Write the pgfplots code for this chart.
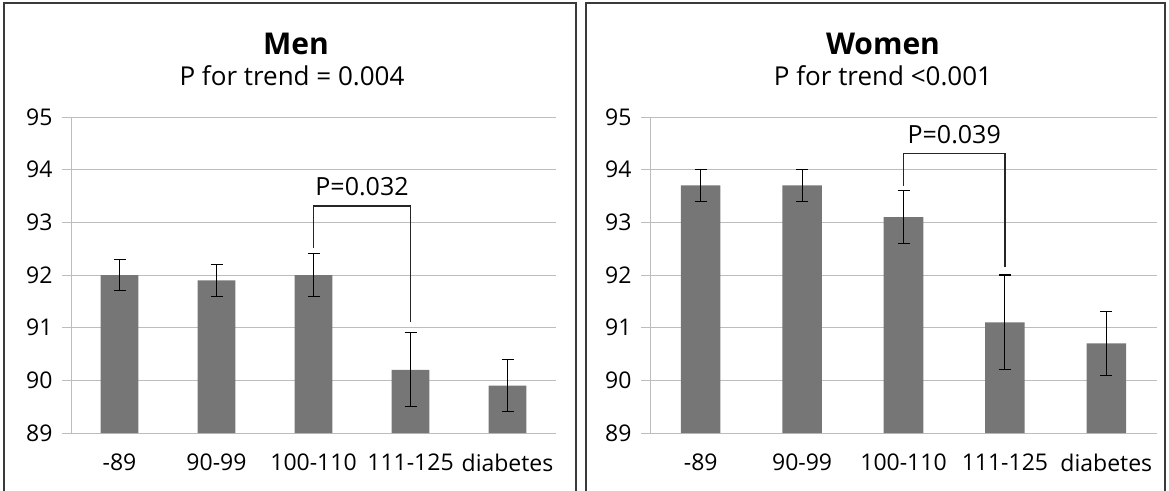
\documentclass[border=0pt]{standalone}
\usepackage{pgfplots}
\pgfplotsset{compat=1.18}
\usepackage{fontspec}
\setmainfont{Open Sans}
\definecolor{barc}{HTML}{767676}
\definecolor{gridc}{HTML}{BDBDBD}
\definecolor{framec}{HTML}{3A3A3A}
\pgfplotstableread{
x y err
1 92.0 0.3
2 91.9 0.3
3 92.0 0.4
4 90.2 0.7
5 89.9 0.5
}\men
\pgfplotstableread{
x y err
1 93.7 0.3
2 93.7 0.3
3 93.1 0.5
4 91.1 0.9
5 90.7 0.6
}\women
\pgfplotsset{
  panel/.style={
    scale only axis, height=316pt,
    ybar, bar width=0.39,
    xmin=0.5, xmax=5.5, ymin=89, ymax=95,
    ytick={89,90,...,95},
    axis lines*=left,
    axis line style={gridc, line width=1pt},
    ymajorgrids=true,
    grid style={gridc, line width=1pt},
    tick align=outside,
    major tick length=9pt,
    tick style={gridc, line width=1pt},
    xtick={1,...,5},
    xticklabels={-89,90-99,100-110,111-125,diabetes},
    major x tick style={draw=none},
    extra x ticks={0.5,1.5,...,5.5},
    extra x tick labels={},
    extra x tick style={major tick length=9pt, tick style={gridc, line width=1pt}, grid=none},
    /pgf/number format/assume math mode=true,
    tick label style={font=\fontsize{23}{27}\selectfont, text=black},
    xticklabel style={yshift=-8pt},
    yticklabel style={xshift=-6pt},
  },
  barstyle/.style={fill=barc, draw=none,
    error bars/.cd, y dir=both, y explicit,
    error bar style={black, line width=1.1pt},
    error mark options={black, line width=1.1pt, mark size=6pt, rotate=90}},
}
\begin{document}
\begin{tikzpicture}[x=1pt,y=1pt]
\useasboundingbox (0,0) rectangle (1169,490);
\draw[framec, line width=1.6pt] (4,-10) -- (4,487) -- (576,487) -- (576,-10);
\draw[framec, line width=1.6pt] (586,-10) -- (586,487) -- (1165,487) -- (1165,-10);
\node[font=\fontsize{30}{34}\selectfont\bfseries] at (296,446) {Men};
\node[font=\fontsize{26}{30}\selectfont] at (292,414) {P for trend = 0.004};
\node[font=\fontsize{30}{34}\selectfont\bfseries] at (883,446) {Women};
\node[font=\fontsize{26}{30}\selectfont] at (883,414) {P for trend <0.001};
\begin{axis}[panel, width=485pt, at={(71pt,57pt)}, anchor=south west]
\addplot[barstyle] table[x=x, y=y, y error=err] {\men};
\draw[black!85, line width=1.2pt] (axis cs:3,92.51) -- (axis cs:3,93.31) -- (axis cs:4,93.31) -- (axis cs:4,91.11);
\node[font=\fontsize{25}{29}\selectfont] at (axis cs:3.5,93.68) {P=0.032};
\end{axis}
\begin{axis}[panel, width=507pt, at={(650pt,57pt)}, anchor=south west]
\addplot[barstyle] table[x=x, y=y, y error=err] {\women};
\draw[black!85, line width=1.2pt] (axis cs:3,93.69) -- (axis cs:3,94.3) -- (axis cs:4,94.3) -- (axis cs:4,92.15);
\node[font=\fontsize{25}{29}\selectfont] at (axis cs:3.5,94.67) {P=0.039};
\end{axis}
\end{tikzpicture}
\end{document}
